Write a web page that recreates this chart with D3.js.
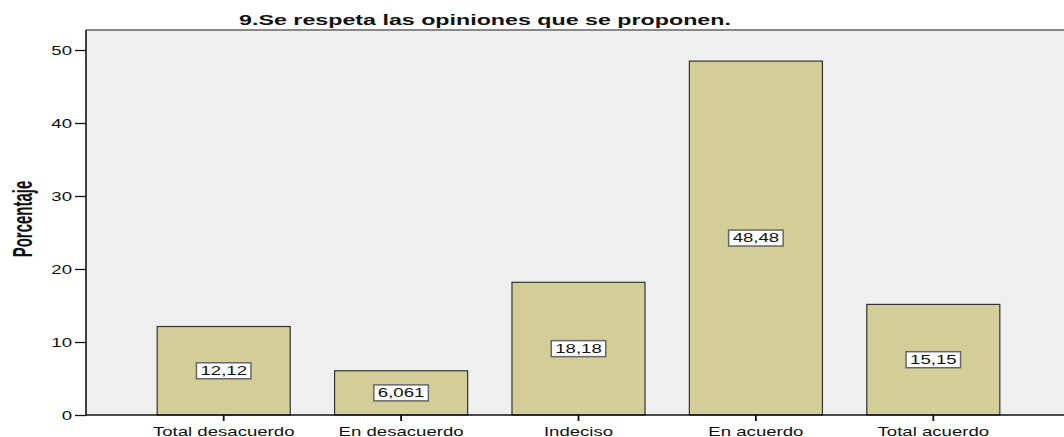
<!DOCTYPE html>
<html>
<head>
<meta charset="utf-8">
<script src="https://cdn.jsdelivr.net/npm/d3@7"></script>
<style>
  body { margin: 0; background: #fff; }
  text { font-family: "Liberation Sans", Arial, sans-serif; fill: #111; }
</style>
</head>
<body>
<div id="chart"></div>
<script>
// data
const categories = ["Total desacuerdo", "En desacuerdo", "Indeciso", "En acuerdo", "Total acuerdo"];
const percentages = [12.12, 6.061, 18.18, 48.48, 15.15];
const valueLabels = ["12,12", "6,061", "18,18", "48,48", "15,15"];
const yTicks = [0, 10, 20, 30, 40, 50];

const width = 1064, height = 437;
const plot = {left: 86, right: 1064, top: 30, bottom: 415};
const stretch = 1.55; // text in the original is drawn horizontally stretched

const svg = d3.select("#chart")
  .append("svg")
    .attr("width", width)
    .attr("height", height);

// scales
const x = d3.scaleBand()
  .domain(categories)
  .range([135, 1022])
  .paddingInner(0.25)
  .paddingOuter(0.125);

const y = d3.scaleLinear()
  .domain([0, 50])
  .range([plot.bottom, 50]);

// plot background
svg.append("rect")
  .attr("x", plot.left)
  .attr("y", plot.top)
  .attr("width", plot.right - plot.left)
  .attr("height", plot.bottom - plot.top)
  .attr("fill", "#efefef");

svg.append("line")
  .attr("x1", plot.left).attr("x2", plot.right)
  .attr("y1", plot.top).attr("y2", plot.top)
  .attr("stroke", "#888")
  .attr("stroke-width", 2);

// bars
svg.append("g")
  .selectAll("rect")
  .data(categories)
  .enter()
  .append("rect")
    .attr("x", d => x(d))
    .attr("y", (d, i) => y(percentages[i]))
    .attr("width", x.bandwidth())
    .attr("height", (d, i) => y(0) - y(percentages[i]))
    .attr("fill", "#d3ce98")
    .attr("stroke", "#333")
    .attr("stroke-width", 1.2);

// y axis
const yAxis = svg.append("g")
  .attr("transform", "translate(" + plot.left + ",0)")
  .call(d3.axisLeft(y).tickValues(yTicks).tickSize(11).tickPadding(3).tickSizeOuter(0));
yAxis.select(".domain").remove();
yAxis.selectAll(".tick line").attr("stroke", "#111").attr("stroke-width", 1.3);
yAxis.selectAll(".tick text")
  .attr("font-size", 12)
  .attr("dy", "0.35em")
  .each(function() {
    const t = d3.select(this);
    const tx = +t.attr("x");
    t.attr("x", null)
     .attr("transform", "translate(" + tx + ",0) scale(" + stretch + ",1)");
  });

svg.append("line")
  .attr("x1", plot.left).attr("x2", plot.left)
  .attr("y1", plot.top).attr("y2", plot.bottom)
  .attr("stroke", "#111")
  .attr("stroke-width", 1.6);

// x axis
const xAxis = svg.append("g")
  .attr("transform", "translate(0," + plot.bottom + ")")
  .call(d3.axisBottom(x).tickSize(6).tickPadding(6).tickSizeOuter(0));
xAxis.select(".domain").remove();
xAxis.selectAll(".tick line").attr("stroke", "#111").attr("stroke-width", 1.8);
xAxis.selectAll(".tick text")
  .attr("font-size", 12)
  .each(function() {
    const t = d3.select(this);
    const ty = +t.attr("y");
    t.attr("y", null).attr("dy", "0.71em")
     .attr("transform", "translate(0," + ty + ") scale(" + stretch + ",1)");
  });

svg.append("line")
  .attr("x1", plot.left).attr("x2", plot.right)
  .attr("y1", plot.bottom).attr("y2", plot.bottom)
  .attr("stroke", "#111")
  .attr("stroke-width", 1.4);

// value labels in boxes
const labels = svg.append("g")
  .selectAll("g")
  .data(categories)
  .enter()
  .append("g")
    .attr("transform", (d, i) =>
      "translate(" + (x(d) + x.bandwidth() / 2) + "," + y(percentages[i] / 2) + ")");

labels.append("text")
  .attr("text-anchor", "middle")
  .attr("dy", "0.36em")
  .attr("font-size", 12)
  .attr("transform", "scale(" + stretch + ",1)")
  .text((d, i) => valueLabels[i]);

labels.insert("rect", "text")
  .each(function() {
    const w = this.parentNode.querySelector("text").getComputedTextLength() * stretch + 8;
    d3.select(this)
      .attr("x", -w / 2)
      .attr("y", -8)
      .attr("width", w)
      .attr("height", 16);
  })
  .attr("fill", "#fff")
  .attr("stroke", "#666")
  .attr("stroke-width", 1.5);

// title
svg.append("text")
  .attr("text-anchor", "middle")
  .attr("font-size", 15)
  .attr("font-weight", "bold")
  .attr("transform", "translate(485,25) scale(" + stretch + ",1)")
  .text("9.Se respeta las opiniones que se proponen.");

// y axis title
svg.append("text")
  .attr("text-anchor", "middle")
  .attr("font-size", 15)
  .attr("font-weight", "bold")
  .attr("transform", "translate(32,219) scale(1.85,1) rotate(-90)")
  .text("Porcentaje");
</script>
</body>
</html>
